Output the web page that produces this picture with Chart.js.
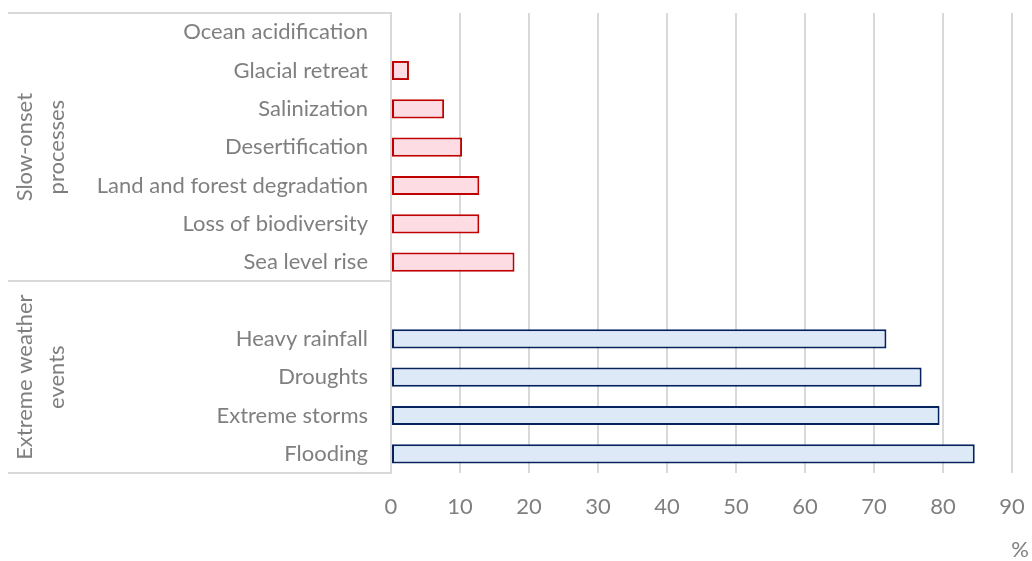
<!DOCTYPE html>
<html>
<head>
<meta charset="utf-8">
<script src="https://cdn.jsdelivr.net/npm/chart.js@4/dist/chart.umd.min.js"></script>
<style>
  html, body { margin: 0; padding: 0; background: #ffffff; }
  #wrap { width: 1032px; height: 561px; position: relative; }
</style>
</head>
<body>
<div id="wrap"><canvas id="chart" width="1032" height="561"></canvas></div>
<script>
// Impacts listed top to bottom; the empty label leaves a spacer row
const categories = [
  'Ocean acidification', 'Glacial retreat', 'Salinization', 'Desertification',
  'Land and forest degradation', 'Loss of biodiversity', 'Sea level rise',
  '',
  'Heavy rainfall', 'Droughts', 'Extreme storms', 'Flooding'
];
// Share of responses, in %
const shares = [0, 2.6, 7.7, 10.3, 12.8, 12.8, 17.9, null, 71.8, 76.9, 79.5, 84.6];
// Outer category groups and how many rows each covers
const groupLabels = [['Slow-onset', 'processes'], ['Extreme weather', 'events']];
const groupSizes = [7, 5];
const groupFill = ['#fddde3', '#dde9f6'];
const groupStroke = ['#c00000', '#06235f'];
const xMin = 0, xMax = 90, xStep = 10;
const unitLabel = '%';

const TEXT = '#7f7f7f';
const LINE = '#d9d9d9';
const FONT = 'Lato, "Open Sans", sans-serif';
const FONT_SIZE = 22;

// per-row colours from the group each row belongs to
const fills = [], strokes = [];
groupSizes.forEach((n, g) => {
  for (let i = 0; i < n; i++) { fills.push(groupFill[g]); strokes.push(groupStroke[g]); }
});

// draws the outer group labels and the separators in the category column
const groupAxis = {
  id: 'groupAxis',
  afterDraw(chart) {
    const { ctx, chartArea, scales } = chart;
    const y = scales.y;
    const half = (y.getPixelForValue(1) - y.getPixelForValue(0)) / 2;
    ctx.save();
    ctx.strokeStyle = LINE;
    ctx.lineWidth = 2;
    let start = 0;
    const edges = [chartArea.top];
    const spans = [];
    groupSizes.forEach(n => {
      const top = y.getPixelForValue(start) - half;
      const bottom = y.getPixelForValue(start + n - 1) + half;
      spans.push([top, bottom]);
      edges.push(bottom);
      start += n;
    });
    edges.forEach(py => {
      ctx.beginPath();
      ctx.moveTo(8, Math.round(py));
      ctx.lineTo(chartArea.left, Math.round(py));
      ctx.stroke();
    });
    ctx.fillStyle = TEXT;
    ctx.font = FONT_SIZE + 'px ' + FONT;
    ctx.textAlign = 'center';
    ctx.textBaseline = 'middle';
    spans.forEach(([top, bottom], g) => {
      const cy = (top + bottom) / 2;
      const lines = groupLabels[g];
      ctx.save();
      ctx.translate(41, cy);
      ctx.rotate(-Math.PI / 2);
      lines.forEach((t, i) => {
        ctx.fillText(t, 0, (i - (lines.length - 1) / 2) * 32);
      });
      ctx.restore();
    });
    // unit label under the value axis
    ctx.textAlign = 'center';
    ctx.fillText(unitLabel, 1020, 550);
    ctx.restore();
  }
};

new Chart(document.getElementById('chart'), {
  type: 'bar',
  data: {
    labels: categories,
    datasets: [{
      data: shares,
      backgroundColor: fills,
      borderColor: strokes,
      borderWidth: 2,
      borderSkipped: false,
      categoryPercentage: 1,
      barPercentage: 0.5
    }]
  },
  options: {
    indexAxis: 'y',
    responsive: false,
    animation: false,
    devicePixelRatio: 1,
    layout: { padding: { top: 13, right: 20, bottom: 0, left: 0 } },
    plugins: { legend: { display: false }, tooltip: { enabled: false } },
    scales: {
      x: {
        min: xMin, max: xMax,
        ticks: { stepSize: xStep, color: TEXT, font: { family: FONT, size: FONT_SIZE }, padding: 21 },
        grid: { color: LINE, lineWidth: 2, drawTicks: false },
        border: { display: false },
        afterFit(scale) {
          scale.height = 88;
          scale.paddingLeft = 0; scale.paddingRight = 0;
        }
      },
      y: {
        ticks: { color: TEXT, font: { family: FONT, size: FONT_SIZE }, padding: 23, autoSkip: false },
        grid: { display: false, drawTicks: false },
        border: { display: true, color: LINE, width: 2 },
        afterFit(scale) {
          scale.width = 391;
          scale.paddingTop = 0; scale.paddingBottom = 0;
        }
      }
    }
  },
  plugins: [groupAxis]
});
</script>
</body>
</html>
